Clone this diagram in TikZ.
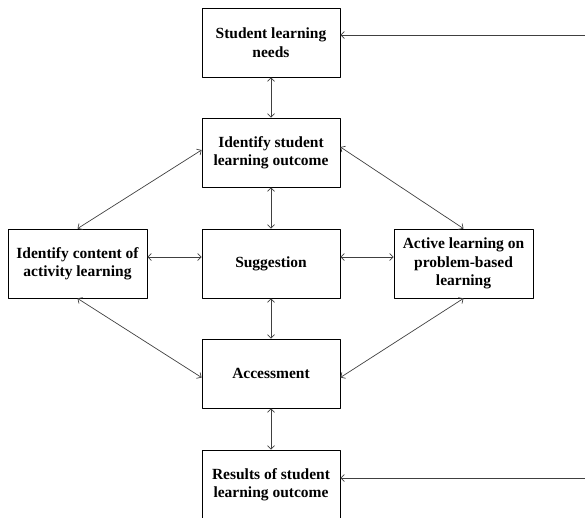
\documentclass[tikz,border=0pt]{standalone}
\usepackage{fontspec}
\setmainfont{Liberation Serif}
\usetikzlibrary{arrows.meta}

\begin{document}
\begin{tikzpicture}[x=1pt, y=-1pt, line cap=round, line join=round,
  >={Straight Barb[length=3.5pt,width=7pt]},
  box/.style={draw, line width=0.8pt, minimum width=138pt, minimum height=69pt,
    inner sep=0pt, align=center, font=\fontsize{15.5}{18.5}\selectfont\bfseries},
  link/.style={<->, line width=0.7pt, draw=black!75}]
  \useasboundingbox (0,0) rectangle (585,517);
  \node[box] (needs) at (271,42.5) {Student learning\\needs};
  \node[box] (outcome) at (271,152.5) {Identify student\\learning outcome};
  \node[box] (suggest) at (271,263.5) {Suggestion};
  \node[box, minimum width=139pt] (content) at (77.5,263.5) {Identify content of\\activity learning};
  \node[box, minimum width=139pt] (active) at (463.5,263.5) {Active learning on\\problem-based\\learning};
  \node[box] (assess) at (271,373.5) {Accessment};
  \node[box] (results) at (271,484.5) {Results of student\\learning outcome};
  \coordinate (needsin) at (585,35);
  \coordinate (resultsin) at (585,478);
  \draw[link] (needs) -- (outcome);
  \draw[link] (outcome) -- (suggest);
  \draw[link] (suggest) -- (assess);
  \draw[link] (assess) -- (results);
  \draw[link] ([yshift=6.5pt]content.east) -- ([yshift=6.5pt]suggest.west);
  \draw[link] ([yshift=6.5pt]suggest.east) -- ([yshift=6.5pt]active.west);
  \draw[link] ([yshift=2.5pt]outcome.west) -- (content.north);
  \draw[link] ([yshift=5.5pt]outcome.east) -- (active.north);
  \draw[link] (content.south) -- ([yshift=-4pt]assess.west);
  \draw[link] (active.south) -- ([yshift=-4pt]assess.east);
  \draw[->, line width=0.7pt, draw=black!75] (needsin) -- (needs.east |- needsin);
  \draw[->, line width=0.7pt, draw=black!75] (resultsin) -- (results.east |- resultsin);
\end{tikzpicture}
\end{document}
